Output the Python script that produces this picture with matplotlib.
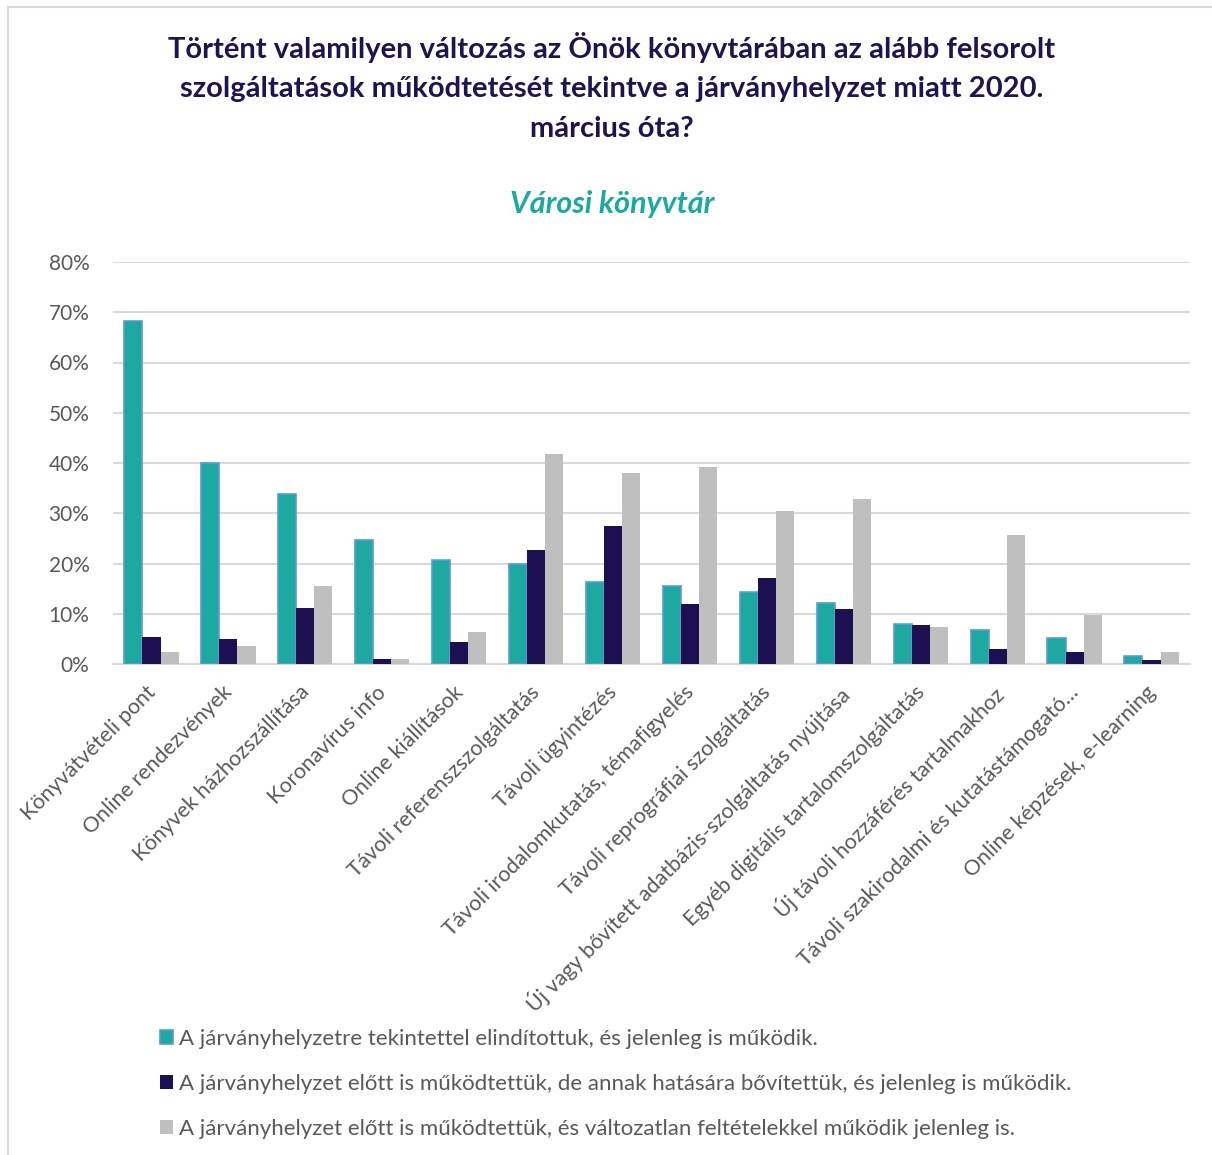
import matplotlib
matplotlib.use('Agg')
import matplotlib.pyplot as plt
import numpy as np
from matplotlib.lines import Line2D

plt.rcParams['font.family'] = ['Lato', 'DejaVu Sans']

categories = [
    'Könyvátvételi pont',
    'Online rendezvények',
    'Könyvek házhozszállítása',
    'Koronavírus info',
    'Online kiállítások',
    'Távoli referenszszolgáltatás',
    'Távoli ügyintézés',
    'Távoli irodalomkutatás, témafigyelés',
    'Távoli reprográfiai szolgáltatás',
    'Új vagy bővített adatbázis-szolgáltatás nyújtása',
    'Egyéb digitális tartalomszolgáltatás',
    'Új távoli hozzáférés tartalmakhoz',
    'Távoli szakirodalmi és kutatástámogató…',
    'Online képzések, e-learning',
]

uj = [68.2, 40.0, 33.9, 24.7, 20.7, 19.9, 16.3, 15.6, 14.3, 12.1, 8.0, 6.8, 5.2, 1.6]
bovitett = [5.4, 4.9, 11.2, 1.0, 4.3, 22.7, 27.4, 11.9, 17.1, 10.9, 7.7, 2.9, 2.4, 0.8]
valtozatlan = [2.3, 3.6, 15.6, 1.0, 6.3, 41.7, 38.1, 39.3, 30.5, 32.9, 7.3, 25.6, 9.7, 2.4]

labels = [
    'A járványhelyzetre tekintettel elindítottuk, és jelenleg is működik.',
    'A járványhelyzet előtt is működtettük, de annak hatására bővítettük, és jelenleg is működik.',
    'A járványhelyzet előtt is működtettük, és változatlan feltételekkel működik jelenleg is.',
]

teal = '#1DA9A0'
navy = '#1C1052'
grey = '#BFBFBF'
text_grey = '#595959'

fig = plt.figure(figsize=(12.12, 11.55), dpi=100)
ax = fig.add_axes([113 / 1212, 1 - 664 / 1155, (1190 - 113) / 1212, (664 - 262) / 1155])

x = np.arange(len(categories))
w = 0.235
ax.bar(x - w, uj, w, color=teal, edgecolor='#5B9BD5', linewidth=1.2, label=labels[0], zorder=3)
ax.bar(x, bovitett, w, color=navy, label=labels[1], zorder=3)
ax.bar(x + w, valtozatlan, w, color=grey, label=labels[2], zorder=3)

ax.set_ylim(0, 80)
ax.set_xlim(-0.5, len(categories) - 0.5)
ax.set_yticks(np.arange(0, 81, 10))
ax.set_yticklabels([f'{v}%' for v in range(0, 81, 10)])
ax.yaxis.grid(True, color='#D9D9D9', linewidth=1.5, zorder=0)
for s in ['top', 'right', 'left']:
    ax.spines[s].set_visible(False)
ax.spines['bottom'].set_color('#D9D9D9')
ax.spines['bottom'].set_linewidth(1.5)
ax.tick_params(axis='both', length=0, colors=text_grey)
ax.tick_params(axis='y', pad=17, labelsize=15)
ax.tick_params(axis='x', pad=13)
ax.set_xticks(x - 0.08)
ax.set_xticklabels(categories, rotation=45, ha='right', rotation_mode='anchor',
                   fontsize=15.5, color=text_grey)

fig.text(0.505, 1 - 87 / 1155, 'Történt valamilyen változás az Önök könyvtárában az alább felsorolt\n'
         'szolgáltatások működtetését tekintve a járványhelyzet miatt 2020.\nmárcius óta?',
         ha='center', va='center', fontsize=21, fontweight='bold', color='#1F1452',
         linespacing=1.62)
fig.text(0.505, 1 - 204 / 1155, 'Városi könyvtár', ha='center', va='center',
         fontsize=22, fontweight='bold', style='italic', color=teal)

leg = fig.legend(loc='upper left', bbox_to_anchor=(140 / 1212, 1 - 1009 / 1155),
                 frameon=False, fontsize=16, labelcolor=text_grey,
                 handlelength=0.6, handleheight=0.6, handletextpad=0.25,
                 labelspacing=1.12)

# chart frame: only top and left edges are visible in the original
fig.lines.append(Line2D([7.5 / 1212, 7.5 / 1212], [0, 1 - 7 / 1155], transform=fig.transFigure,
                        color='#D9D9D9', linewidth=1.5))
fig.lines.append(Line2D([7.5 / 1212, 1], [1 - 7 / 1155, 1 - 7 / 1155], transform=fig.transFigure,
                        color='#D9D9D9', linewidth=1.5))

plt.savefig('out.png', dpi=100)
